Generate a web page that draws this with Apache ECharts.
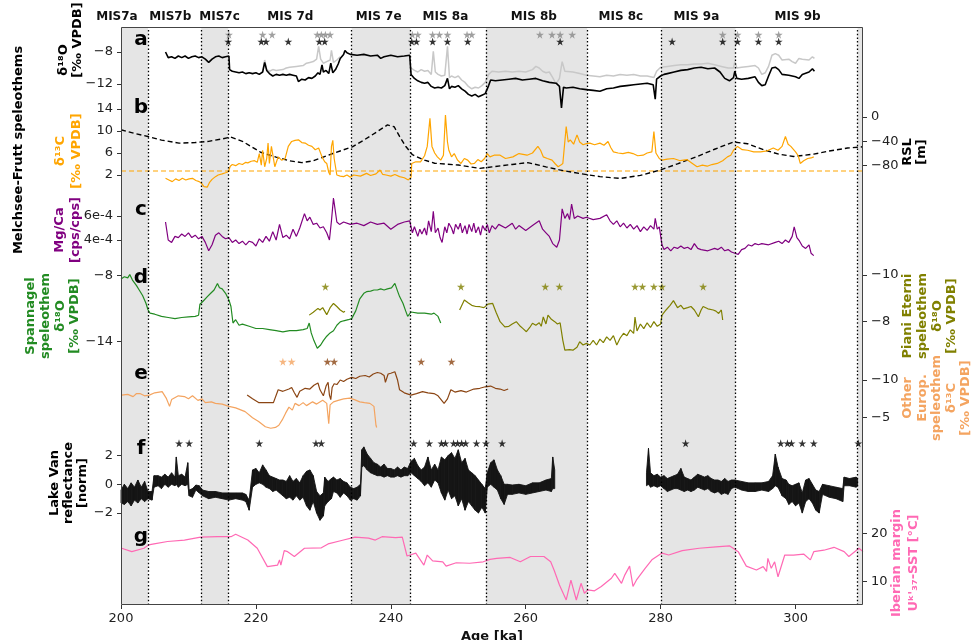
<!DOCTYPE html>
<html>
<head>
<meta charset="utf-8">
<script src="https://cdn.jsdelivr.net/npm/echarts@6/dist/echarts.min.js"></script>
<style>html,body{margin:0;background:#fff}#chart{width:974px;height:640px}</style>
</head>
<body>
<div id="chart"></div>
<script>
// interval boundaries (ka) and shaded stadials
var misBounds = [204.0, 211.9, 215.9, 234.2, 242.9, 254.1, 269.1, 280.1, 291.1, 309.2];
var misShade = [[200, 204.0], [211.9, 215.9], [234.2, 242.9], [254.1, 269.1], [280.1, 291.1], [309.2, 310]];
var misNames = ['MIS7a', 'MIS7b', 'MIS7c', 'MIS 7d', 'MIS 7e', 'MIS 8a', 'MIS 8b', 'MIS 8c', 'MIS 9a', 'MIS 9b'];
var misAt = [199.4, 207.3, 214.6, 225.1, 238.2, 248.1, 261.2, 274.1, 285.3, 300.3];

// a: Melchsee-Frutt d18O (black) and gray record
var d18oBlack = [[206.6,-8.0],[207.0,-8.7],[207.5,-8.6],[208.0,-8.8],[208.5,-8.5],[209.0,-8.7],[209.5,-8.5],[210.0,-8.8],[210.5,-8.6],[211.0,-8.5],[211.5,-8.7],[212.0,-8.6],[212.5,-8.9],[213.0,-9.3],[213.5,-8.9],[214.0,-8.6],[214.5,-8.5],[215.0,-8.7],[215.5,-8.6],[216.0,-8.5],[216.1,-10.2],[216.5,-10.4],[217.0,-10.5],[217.5,-10.6],[218.0,-10.5],[218.5,-10.7],[219.0,-10.6],[219.5,-10.7],[220.0,-10.6],[220.5,-10.8],[221.0,-10.5],[221.3,-9.3],[221.6,-10.3],[222.0,-10.7],[222.5,-11.0],[223.0,-10.8],[223.5,-10.9],[224.0,-10.8],[224.5,-10.9],[225.0,-10.8],[225.5,-10.9],[226.0,-11.0],[226.3,-11.7],[226.8,-11.4],[227.3,-11.5],[227.8,-11.2],[228.3,-11.3],[228.8,-11.0],[229.2,-10.6],[229.5,-10.8],[229.8,-9.6],[230.0,-10.5],[230.4,-10.3],[230.8,-10.7],[231.1,-9.4],[231.4,-10.6],[231.8,-10.2],[232.2,-9.5],[232.5,-8.8],[233.0,-8.3],[233.2,-7.8],[233.5,-8.1],[234.0,-8.3],[235.0,-8.4],[236.0,-8.3],[237.0,-8.5],[238.0,-8.4],[238.5,-8.8],[239.0,-8.6],[240.0,-8.4],[241.0,-8.6],[242.0,-8.5],[242.8,-8.4],[243.0,-10.8],[243.5,-11.3],[244.0,-11.6],[244.5,-11.8],[245.0,-11.9],[245.5,-11.8],[246.0,-12.3],[246.5,-12.5],[247.0,-12.4],[247.5,-12.5],[248.0,-12.2],[248.4,-11.3],[248.7,-12.6],[249.0,-12.3],[249.5,-12.4],[250.0,-12.2],[250.5,-12.6],[251.0,-12.9],[251.5,-13.3],[252.0,-13.5],[252.5,-13.3],[253.0,-13.6],[253.5,-13.4],[254.0,-13.2],[254.5,-12.2],[254.8,-11.5],[255.5,-11.6],[256.5,-11.5],[257.5,-11.4],[258.5,-11.3],[259.5,-11.5],[260.5,-11.4],[261.5,-11.3],[262.5,-11.6],[263.5,-11.8],[264.5,-11.9],[265.0,-12.3],[265.3,-15.0],[265.6,-12.4],[266.0,-12.5],[267.0,-12.4],[268.0,-12.6],[269.0,-12.7],[270.0,-12.8],[271.0,-12.9],[272.0,-12.6],[273.0,-12.5],[274.0,-12.3],[275.0,-12.2],[276.0,-12.1],[277.0,-12.0],[278.0,-11.9],[278.9,-12.1],[279.2,-13.9],[279.4,-11.4],[280.0,-11.0],[280.5,-10.8],[281.0,-10.7],[282.0,-10.5],[283.0,-10.3],[284.0,-10.2],[285.0,-10.0],[286.0,-9.9],[287.0,-10.1],[288.0,-10.0],[288.8,-10.5],[289.5,-11.3],[290.2,-11.6],[290.8,-11.2],[291.0,-10.4],[291.3,-11.3],[292.0,-11.4],[293.0,-11.3],[294.0,-11.1],[294.5,-11.8],[295.0,-12.2],[295.5,-12.1],[296.0,-11.0],[296.5,-10.0],[297.0,-9.9],[297.5,-10.2],[298.0,-10.8],[299.0,-10.9],[300.0,-11.1],[300.5,-11.3],[301.0,-10.8],[302.0,-10.5],[302.5,-10.1],[302.8,-10.4]];
var d18oGrayA = [[221.0,-10.5],[221.3,-9.0],[221.6,-10.2],[222.0,-10.4],[222.5,-10.2],[223.0,-10.3],[224.0,-10.2],[224.5,-10.0],[225.0,-9.9],[226.0,-9.8],[227.0,-9.7],[227.5,-9.4],[228.0,-9.3],[228.5,-9.2],[229.0,-8.9],[229.3,-7.3],[229.6,-8.9],[230.0,-9.4],[230.5,-9.2],[231.0,-9.0],[231.2,-7.8],[231.5,-9.3],[232.0,-9.0],[232.5,-8.6]];
var d18oGrayB = [[243.0,-10.0],[243.5,-10.3],[244.0,-10.5],[244.5,-10.2],[245.0,-10.4],[245.5,-10.3],[246.0,-10.8],[246.3,-7.9],[246.6,-10.5],[247.0,-10.8],[247.5,-11.0],[248.0,-10.9],[248.4,-7.3],[248.7,-11.2],[249.0,-11.0],[249.5,-11.2],[250.0,-11.0],[250.5,-11.5],[251.0,-11.8],[251.5,-12.3],[252.0,-12.6],[252.5,-12.4],[253.0,-12.5],[253.5,-12.2],[254.0,-11.8],[254.5,-10.8],[255.0,-10.4],[256.0,-10.5],[257.0,-10.4],[258.0,-10.5],[259.0,-10.4],[260.0,-10.5],[261.0,-10.2],[261.5,-9.8],[262.0,-10.0],[262.5,-10.4],[263.0,-10.6],[263.5,-10.5],[264.0,-11.2],[264.5,-12.0],[265.0,-11.3],[265.4,-9.2],[265.8,-10.4],[266.0,-10.6],[267.0,-10.5],[268.0,-10.7],[269.0,-10.9],[270.0,-11.0],[271.0,-11.1],[272.0,-10.9],[273.0,-11.0],[274.0,-10.8],[275.0,-10.9],[276.0,-10.8],[277.0,-11.0],[278.0,-11.0],[279.0,-11.2],[279.4,-10.4],[280.0,-9.9],[281.0,-9.8],[282.0,-9.7],[283.0,-9.6],[284.0,-9.6],[285.0,-9.5],[286.0,-9.5],[287.0,-9.4],[288.0,-9.6],[289.0,-9.8],[290.0,-10.0],[290.8,-10.0],[291.0,-9.2],[291.3,-10.0],[292.0,-9.9],[293.0,-9.8],[294.0,-9.7],[294.5,-10.0],[295.0,-10.8],[295.5,-10.6],[296.0,-9.8],[296.5,-8.4],[297.0,-8.2],[297.5,-8.4],[298.0,-9.0],[299.0,-8.9],[299.5,-9.2],[300.0,-9.4],[300.5,-8.8],[301.0,-8.9],[302.0,-9.0],[302.5,-8.6],[302.8,-8.8]];
var starsGrayA = [216.0, 221.0, 222.4, 229.1, 229.7, 230.3, 231.0, 243.2, 244.0, 246.2, 247.2, 248.4, 251.3, 252.0, 262.1, 263.9, 265.1, 266.9, 289.2, 291.4, 294.5, 297.5];
var starsBlackA = [215.9, 220.8, 221.5, 224.8, 229.4, 230.2, 243.1, 243.8, 246.2, 248.4, 251.4, 265.1, 281.7, 289.2, 291.4, 294.5, 297.5];

// b: d13C (orange) and relative sea level (dashed)
var d13c = [[206.6,1.4],[207.1,1.1],[207.6,0.8],[208.1,1.3],[208.6,1.0],[209.1,1.4],[209.6,1.1],[210.1,1.3],[210.6,1.4],[211.1,1.0],[211.6,0.8],[212.0,0.4],[212.3,-0.1],[212.8,-0.2],[213.1,0.6],[213.5,1.2],[214.0,1.7],[214.4,2.0],[215.0,2.2],[215.5,2.4],[215.9,2.6],[216.2,3.6],[216.5,3.9],[217.0,3.7],[217.5,4.1],[218.0,3.9],[218.5,4.3],[218.8,4.2],[219.3,4.5],[219.8,4.6],[220.2,4.3],[220.5,5.9],[220.8,3.8],[221.0,6.5],[221.3,3.5],[221.6,5.0],[221.8,7.8],[222.0,4.1],[222.3,7.2],[222.6,5.0],[222.8,3.5],[223.3,5.3],[223.8,4.7],[224.3,4.9],[224.8,7.2],[225.3,8.1],[225.8,8.3],[226.3,8.4],[226.8,7.9],[227.3,7.8],[227.8,7.4],[228.3,7.2],[228.8,6.6],[229.3,6.9],[229.8,5.3],[230.2,4.4],[230.5,4.1],[230.8,2.5],[231.0,2.0],[231.2,7.2],[231.4,8.3],[231.6,5.0],[232.0,2.0],[232.5,1.8],[233.0,1.7],[233.5,2.0],[234.0,1.6],[234.5,2.0],[235.5,1.8],[236.4,2.3],[237.0,1.9],[237.8,2.2],[238.4,2.9],[238.8,2.1],[239.3,2.0],[240.0,1.8],[240.6,2.1],[241.3,1.7],[242.0,1.5],[242.6,1.1],[243.0,1.6],[243.1,4.1],[243.7,4.4],[244.4,4.4],[245.0,5.5],[245.4,7.2],[245.8,12.3],[246.1,7.2],[246.5,6.0],[246.9,5.3],[247.4,4.7],[247.8,5.6],[248.1,12.9],[248.4,8.0],[248.6,6.5],[249.0,5.3],[249.4,5.9],[249.9,4.7],[250.4,4.1],[250.9,5.0],[251.4,4.7],[251.9,4.0],[252.4,4.1],[252.9,4.8],[253.4,4.4],[253.9,5.0],[254.3,5.9],[254.7,5.3],[255.3,5.6],[256.2,5.6],[257.0,5.0],[258.1,5.3],[259.0,5.9],[260.2,5.6],[261.0,6.0],[261.8,7.2],[262.2,6.5],[262.6,5.3],[263.2,5.0],[263.9,4.7],[264.4,4.0],[264.8,3.5],[265.2,3.8],[265.5,4.1],[266.0,10.8],[266.3,8.0],[266.6,8.4],[267.1,7.6],[267.6,9.3],[268.0,8.0],[268.5,7.5],[269.0,7.7],[269.5,7.8],[270.2,7.5],[271.0,7.8],[271.6,7.4],[272.2,8.1],[272.6,7.0],[273.0,6.2],[273.7,6.0],[274.4,5.9],[275.2,6.1],[275.9,5.9],[276.6,5.5],[277.4,5.6],[278.0,6.0],[278.7,6.2],[279.0,9.9],[279.3,6.0],[279.5,5.9],[279.8,5.0],[280.2,4.7],[281.0,4.9],[281.9,5.0],[282.9,4.6],[283.9,4.8],[284.6,4.2],[285.4,3.5],[286.2,3.8],[286.9,3.6],[287.6,3.9],[288.4,4.1],[289.2,4.6],[289.9,5.3],[290.4,5.6],[290.8,6.5],[291.4,7.2],[292.1,6.6],[292.9,6.5],[293.8,6.2],[294.8,6.2],[295.8,6.4],[296.7,6.9],[297.4,6.5],[298.0,7.2],[298.5,9.0],[298.9,7.6],[299.3,7.2],[300.0,6.2],[300.4,5.5],[300.7,4.1],[301.2,4.6],[301.8,5.0],[302.3,5.1],[302.7,5.3]];
var d13cRef = 2.73;
var rsl = [[200,-21],[202,-27],[204,-32],[206,-38],[208.6,-43],[211,-42],[213,-40],[215,-36],[216.3,-33],[218,-40],[220.7,-58],[223,-66],[225,-72],[226.8,-75],[228.5,-72],[231.4,-60],[234.3,-49],[236,-38],[238,-24],[239.5,-13],[240.5,-16],[241.3,-32],[242.2,-48],[243.2,-62],[245,-71],[246.5,-76],[250,-79],[253.2,-84.5],[255,-82],[258,-78],[260.3,-75],[263,-82],[265,-87],[268,-93],[271,-98],[274,-101],[277,-96],[280,-87],[282.5,-77],[285.4,-65],[288,-53],[290.8,-41],[292.9,-44],[295.3,-54],[297.5,-61],[299.7,-65],[302.7,-61],[305,-56],[307.7,-51],[310,-49]];

// c: Mg/Ca
var mgca = [[206.6,5.5e-4],[207.0,4.0e-4],[207.5,3.8e-4],[208.0,4.3e-4],[208.5,4.2e-4],[209.0,4.5e-4],[209.5,4.3e-4],[210.0,4.6e-4],[210.5,4.2e-4],[211.0,4.4e-4],[211.5,4.1e-4],[212.0,4.3e-4],[212.5,3.8e-4],[213.0,3.1e-4],[213.5,3.6e-4],[214.0,4.4e-4],[214.5,4.6e-4],[215.0,4.3e-4],[215.5,4.1e-4],[216.0,4.2e-4],[216.5,3.8e-4],[217.0,4.0e-4],[217.5,3.7e-4],[218.0,3.9e-4],[218.5,3.6e-4],[219.0,3.9e-4],[219.5,3.8e-4],[220.0,3.5e-4],[220.5,4.1e-4],[221.0,3.8e-4],[221.5,4.3e-4],[222.0,3.9e-4],[222.5,4.7e-4],[223.0,4.0e-4],[223.5,5.3e-4],[224.0,4.2e-4],[224.5,4.4e-4],[225.0,4.1e-4],[225.5,4.9e-4],[226.0,4.3e-4],[226.5,5.0e-4],[227.2,6.2e-4],[227.6,5.6e-4],[228.0,5.9e-4],[228.5,5.3e-4],[229.0,5.4e-4],[229.5,5.0e-4],[230.0,5.1e-4],[230.5,4.6e-4],[230.9,4.0e-4],[231.2,5.6e-4],[231.5,7.5e-4],[232.0,5.5e-4],[232.4,5.3e-4],[233.0,5.5e-4],[234.0,5.3e-4],[235.0,5.4e-4],[236.0,5.2e-4],[237.0,5.5e-4],[238.0,5.3e-4],[239.0,5.4e-4],[240.0,4.9e-4],[241.0,5.3e-4],[242.0,5.5e-4],[242.8,5.6e-4],[243.2,4.6e-4],[243.5,5.1e-4],[244.0,4.3e-4],[244.3,4.9e-4],[244.6,4.5e-4],[245.0,5.0e-4],[245.3,4.4e-4],[245.6,5.6e-4],[246.0,4.7e-4],[246.3,6.4e-4],[246.6,4.6e-4],[247.0,5.0e-4],[247.3,4.2e-4],[247.6,3.8e-4],[248.0,5.1e-4],[248.3,4.6e-4],[248.6,5.4e-4],[249.0,5.0e-4],[249.3,4.5e-4],[249.6,5.3e-4],[250.0,4.9e-4],[250.3,5.4e-4],[250.6,4.6e-4],[251.0,5.2e-4],[251.3,4.5e-4],[251.6,5.3e-4],[252.0,4.7e-4],[252.3,5.4e-4],[252.6,4.6e-4],[253.0,5.1e-4],[253.3,4.4e-4],[253.6,5.2e-4],[254.0,4.8e-4],[254.3,5.3e-4],[254.6,4.6e-4],[255.0,5.2e-4],[255.5,4.9e-4],[256.0,5.3e-4],[257.0,5.0e-4],[258.0,5.4e-4],[258.5,4.9e-4],[259.0,5.2e-4],[260.0,4.8e-4],[261.0,5.2e-4],[262.0,5.6e-4],[262.5,4.9e-4],[263.0,4.6e-4],[263.5,4.3e-4],[264.0,3.7e-4],[264.6,3.4e-4],[265.0,4.0e-4],[265.4,6.6e-4],[265.8,5.8e-4],[266.2,6.2e-4],[266.5,5.7e-4],[266.8,7.0e-4],[267.2,5.8e-4],[267.7,6.0e-4],[268.5,5.8e-4],[269.0,5.9e-4],[270.0,5.7e-4],[271.0,5.8e-4],[272.0,6.1e-4],[272.5,5.6e-4],[273.0,5.3e-4],[273.5,5.6e-4],[274.0,5.1e-4],[274.5,5.4e-4],[275.0,5.0e-4],[275.5,5.3e-4],[276.0,4.9e-4],[276.5,5.2e-4],[277.0,4.7e-4],[277.5,5.1e-4],[278.0,4.8e-4],[278.5,5.2e-4],[279.0,4.9e-4],[279.2,5.8e-4],[279.5,4.9e-4],[279.8,5.1e-4],[280.2,3.6e-4],[280.5,3.2e-4],[281.0,3.4e-4],[281.5,3.1e-4],[282.0,3.4e-4],[282.5,3.3e-4],[283.0,3.5e-4],[283.5,3.3e-4],[284.0,3.4e-4],[284.5,3.2e-4],[285.0,3.7e-4],[285.5,3.3e-4],[286.0,3.2e-4],[287.0,3.1e-4],[288.0,3.3e-4],[288.5,3.2e-4],[289.0,3.4e-4],[289.5,3.1e-4],[290.0,3.2e-4],[290.5,3.0e-4],[291.0,2.9e-4],[291.5,2.8e-4],[292.0,3.2e-4],[292.5,3.3e-4],[293.0,3.6e-4],[293.5,3.5e-4],[294.0,3.7e-4],[294.5,3.6e-4],[295.0,3.7e-4],[296.0,3.6e-4],[297.0,3.8e-4],[297.5,3.9e-4],[298.0,3.7e-4],[298.5,4.0e-4],[299.0,3.8e-4],[299.5,4.3e-4],[299.8,5.1e-4],[300.2,4.2e-4],[300.6,3.9e-4],[301.0,3.5e-4],[301.5,3.3e-4],[302.0,3.6e-4],[302.3,2.9e-4],[302.7,2.7e-4]];

// d: Spannagel d18O (green) and Piani Eterni d18O (olive)
var spannagel = [[200.0,-8.3],[200.5,-8.1],[201.0,-8.2],[201.3,-7.9],[201.7,-8.4],[202.3,-8.9],[202.7,-9.3],[203.2,-9.8],[203.7,-10.5],[204.0,-11.1],[204.3,-11.4],[205.0,-11.5],[206.0,-11.7],[207.0,-11.8],[208.0,-11.9],[209.0,-11.8],[210.0,-11.75],[211.0,-11.7],[211.5,-11.6],[211.7,-10.6],[212.2,-10.3],[212.8,-9.9],[213.3,-9.6],[213.8,-9.3],[214.3,-8.7],[214.6,-9.1],[215.0,-9.2],[215.5,-9.6],[216.0,-10.2],[216.3,-10.8],[216.6,-12.3],[217.0,-12.0],[217.5,-12.5],[218.0,-12.4],[219.0,-12.6],[220.0,-12.8],[221.0,-12.8],[222.0,-12.9],[223.0,-13.0],[224.0,-13.1],[225.0,-13.0],[226.0,-13.0],[227.0,-12.9],[227.6,-12.8],[227.9,-12.3],[228.2,-13.2],[228.6,-13.9],[229.1,-14.6],[229.6,-14.3],[230.0,-13.9],[230.5,-13.5],[231.0,-13.2],[231.5,-13.0],[232.0,-12.5],[232.5,-12.2],[233.0,-12.1],[233.7,-12.0],[234.2,-11.9],[234.8,-11.2],[235.4,-10.1],[236.0,-9.6],[236.4,-9.45],[237.0,-9.4],[237.5,-9.3],[238.0,-9.3],[238.5,-9.2],[239.0,-9.3],[239.5,-9.2],[240.1,-9.1],[240.6,-8.7],[241.0,-9.4],[241.3,-9.9],[241.8,-10.5],[242.2,-11.2],[242.5,-11.7],[243.0,-11.3],[244.0,-11.4],[245.0,-11.4],[246.0,-11.5],[246.4,-11.4],[247.0,-11.7],[247.4,-12.3]];
var pianiA = [[227.9,-8.28],[228.5,-8.4],[229.2,-8.57],[229.5,-8.5],[229.9,-8.6],[230.5,-8.3],[231.0,-8.6],[231.5,-8.78],[232.0,-8.65],[232.5,-8.5],[233.0,-8.4],[233.2,-8.45]];
var pianiB = [[250.2,-8.5],[250.9,-8.93],[251.5,-8.8],[252.0,-8.7],[252.6,-8.65],[253.2,-8.64],[253.8,-8.6],[254.4,-8.75],[255.1,-8.78],[255.6,-8.4],[256.2,-8.0],[256.9,-7.78],[257.5,-7.8],[258.0,-7.9],[258.6,-8.0],[259.2,-7.8],[259.6,-7.7],[260.1,-7.57],[260.6,-7.75],[261.0,-7.93],[261.5,-7.85],[262.0,-7.95],[262.3,-7.8],[262.6,-8.2],[263.0,-7.9],[263.3,-8.28],[263.8,-8.1],[264.3,-8.0],[264.7,-7.9],[265.1,-7.95],[265.5,-7.2],[265.8,-6.78],[266.5,-6.8],[267.0,-6.78],[267.6,-6.9],[268.0,-7.14],[268.5,-7.0],[269.0,-7.07],[269.5,-7.0],[270.0,-7.2],[270.5,-7.0],[271.0,-7.25],[271.5,-7.1],[272.0,-7.35],[272.5,-7.2],[273.0,-7.4],[273.5,-7.0],[274.0,-7.3],[274.5,-7.5],[275.0,-7.4],[275.5,-7.65],[276.0,-7.5],[276.2,-8.2],[276.5,-7.6],[277.0,-7.9],[277.5,-7.7],[278.0,-7.95],[278.5,-7.75],[279.0,-8.0],[279.5,-7.8],[280.0,-7.9],[280.2,-8.28],[280.8,-8.5],[281.4,-8.7],[281.9,-8.9],[282.5,-8.6],[283.0,-8.7],[283.4,-8.55],[284.0,-8.6],[284.5,-8.65],[285.0,-8.5],[285.6,-8.21],[286.0,-8.5],[286.3,-8.65],[287.0,-8.55],[287.8,-8.5],[288.2,-8.45],[288.6,-8.35],[289.0,-8.5],[289.2,-8.07]];
var starsPiani = [230.3, 250.4, 262.9, 265.0, 276.2, 277.3, 279.0, 280.2, 286.3];

// e: other European speleothem d13C
var europLight = [[200.1,-8.0],[201.0,-8.1],[201.8,-7.8],[202.3,-8.2],[202.8,-8.2],[203.5,-7.9],[204.2,-8.0],[205.0,-8.3],[206.1,-8.45],[206.7,-7.6],[207.2,-6.5],[207.5,-7.4],[207.9,-7.6],[208.5,-7.9],[209.4,-7.8],[210.0,-7.5],[210.6,-7.9],[211.4,-7.3],[212.0,-7.5],[212.5,-7.0],[213.4,-7.1],[214.0,-6.9],[215.0,-6.8],[216.0,-6.5],[217.0,-6.3],[218.4,-5.8],[219.5,-5.0],[220.4,-4.5],[221.4,-3.8],[222.2,-3.6],[222.9,-3.7],[223.4,-4.0],[223.9,-4.7],[224.4,-5.6],[224.9,-6.4],[225.4,-6.0],[225.8,-6.9],[226.4,-6.6],[227.0,-7.0],[227.5,-6.6],[228.4,-7.1],[229.0,-6.8],[229.9,-7.3],[230.5,-6.9],[230.8,-4.2],[231.0,-6.7],[231.5,-7.1],[232.2,-7.3],[233.0,-7.5],[233.9,-7.6],[234.6,-7.4],[235.4,-7.1],[236.1,-7.0],[236.9,-6.9],[237.5,-6.5],[237.7,-6.4],[237.8,-4.0],[237.9,-3.7]];
var europBrown = [[218.7,-8.0],[219.5,-7.5],[220.4,-7.0],[222.6,-7.0],[223.3,-8.7],[224.0,-8.5],[224.9,-8.8],[225.3,-9.0],[225.7,-8.3],[226.1,-7.7],[226.5,-8.5],[227.3,-8.9],[228.0,-8.8],[228.6,-9.3],[229.2,-9.6],[229.5,-8.7],[230.0,-7.9],[230.4,-9.2],[230.7,-9.7],[230.9,-8.0],[231.1,-7.4],[231.3,-9.0],[231.6,-9.5],[232.0,-9.4],[232.5,-10.0],[233.0,-9.8],[233.5,-10.1],[234.2,-10.35],[234.8,-10.2],[235.4,-10.5],[236.2,-10.6],[236.8,-10.4],[237.4,-10.8],[238.0,-11.0],[238.5,-10.9],[239.0,-10.6],[239.2,-9.7],[239.6,-10.8],[240.0,-10.9],[240.6,-11.1],[241.0,-10.0],[241.3,-8.7],[242.0,-8.3],[243.0,-8.0],[243.8,-8.2],[244.7,-8.45],[245.5,-8.3],[246.4,-8.2],[247.0,-7.9],[247.9,-6.9],[248.4,-7.5],[248.9,-8.7],[249.5,-8.4],[250.4,-8.6],[251.2,-8.4],[252.3,-8.8],[253.2,-8.9],[254.0,-9.1],[254.8,-9.2],[255.5,-8.9],[256.2,-8.8],[256.8,-8.6],[257.4,-8.8]];
var starsEuropLight = [224.0, 225.3];
var starsEuropBrown = [230.6, 231.6, 244.5, 249.0];

// f: Lake Van reflectance, [age, low, high] of the point cloud
var vanSeg1 = [[200.0,-1.3,-0.4],[200.5,-1.4,0.0],[201.0,-1.2,-0.3],[201.5,-1.5,0.1],[202.0,-1.1,-0.2],[202.5,-1.3,0.3],[203.0,-1.0,-0.2],[203.5,-1.2,0.2],[204.0,-1.0,-0.5],[204.6,-1.1,-0.5],[204.9,-0.2,0.6],[205.5,-0.1,0.6],[206.0,-0.3,0.5],[206.5,0.0,0.7],[207.0,-0.2,0.5],[207.5,0.0,0.8],[208.0,-0.1,0.5],[208.2,0.0,1.9],[208.5,-0.2,0.6],[209.0,0.0,0.7],[209.5,-0.1,0.5],[209.9,0.0,1.5],[210.1,-0.8,-0.4],[210.6,-0.9,-0.3],[211.1,-0.4,-0.05],[211.6,-0.6,-0.1],[212.1,-0.8,-0.4],[213.0,-1.0,-0.5],[214.0,-0.9,-0.5],[215.0,-1.0,-0.6],[216.0,-1.1,-0.6],[217.0,-1.0,-0.6],[218.0,-1.1,-0.6],[218.5,-1.2,-0.7],[219.0,-1.8,-1.1],[219.5,-0.2,1.0],[220.0,0.0,1.1],[220.5,0.1,0.8],[221.0,0.0,1.35],[221.5,-0.2,1.0],[222.0,-0.3,0.6],[222.5,-0.5,0.5],[223.0,-0.4,0.4],[223.5,-0.6,0.3],[224.0,-0.8,0.3],[224.5,-1.0,0.2],[225.0,-0.9,0.6],[225.5,-1.1,0.2],[226.0,-0.8,0.4],[226.5,-1.1,0.1],[227.0,-0.9,0.6],[227.5,-1.5,0.9],[228.0,-1.8,1.0],[228.5,-1.2,0.6],[229.0,-2.0,-0.5],[229.5,-2.5,-0.8],[230.0,-2.2,-0.6],[230.2,-1.5,0.5],[230.7,-1.2,0.2],[231.2,-1.0,0.4],[231.5,-0.5,0.5],[232.0,-0.6,0.3],[232.5,-0.9,0.4],[233.0,-0.6,0.2],[233.5,-0.8,0.1],[234.0,-1.1,-0.2],[234.5,-1.0,-0.3],[235.0,-1.1,-0.2],[235.5,-0.8,0.0],[235.7,1.2,2.4],[236.0,1.3,2.6],[236.5,1.0,2.1],[237.0,0.8,1.8],[237.5,0.7,1.5],[238.0,0.6,1.4],[238.5,0.6,1.2],[239.0,0.5,1.4],[239.5,0.6,1.1],[240.0,0.5,1.1],[240.5,0.5,1.0],[241.0,0.6,1.2],[241.5,0.5,1.0],[242.0,0.6,1.2],[242.5,0.6,1.1],[243.0,0.8,1.6],[243.5,0.6,1.8],[244.0,0.4,1.3],[244.5,0.2,1.0],[245.0,-0.1,1.2],[245.5,0.1,1.9],[246.0,-0.2,1.0],[246.5,0.3,1.4],[247.0,0.1,1.0],[247.5,-0.6,1.9],[248.0,-1.1,1.7],[248.5,-0.4,2.0],[249.0,-1.0,2.2],[249.5,-0.8,1.8],[250.0,-1.5,2.4],[250.5,-1.0,1.5],[251.0,-1.8,1.8],[251.5,-1.2,1.0],[252.0,-1.5,0.8],[252.5,-1.8,0.6],[253.0,-2.0,0.3],[253.5,-1.6,0.0],[254.0,-2.0,-0.3],[254.3,-0.2,0.8],[254.8,0.0,1.5],[255.3,-0.2,1.7],[255.8,-0.4,1.0],[256.3,-1.0,0.6],[256.8,-1.4,0.0],[257.3,-0.7,0.0],[258.0,-0.7,-0.05],[259.0,-0.6,0.0],[260.0,-0.7,-0.1],[261.0,-0.6,0.1],[262.0,-0.5,0.1],[263.0,-0.4,0.3],[263.8,-0.5,0.4],[264.0,-0.3,1.9],[264.3,-0.3,1.0]];
var vanSeg2 = [[277.9,-0.1,0.8],[278.2,0.0,2.5],[278.5,-0.2,0.8],[279.0,-0.1,0.6],[279.5,-0.2,0.7],[280.0,-0.1,0.5],[280.5,-0.3,0.6],[281.0,-0.5,0.4],[281.5,-0.4,0.5],[282.0,-0.3,0.6],[282.5,-0.3,0.7],[283.0,-0.4,1.1],[283.5,-0.5,0.5],[284.0,-0.4,0.4],[284.5,-0.5,0.3],[285.0,-0.4,0.5],[285.5,-0.2,0.7],[286.0,-0.3,0.6],[286.5,-0.4,0.5],[287.0,-0.3,0.6],[287.5,-0.5,0.4],[288.0,-0.6,0.3],[288.5,-0.5,0.3],[289.0,-0.7,0.2],[289.5,-0.6,0.4],[290.0,-0.7,0.2],[290.5,-0.3,0.3],[291.0,-0.2,0.3],[292.0,-0.4,0.2],[293.0,-0.5,0.1],[294.0,-0.5,0.1],[295.0,-0.4,0.1],[296.0,-0.5,0.2],[296.6,-0.3,0.6],[297.0,-0.1,2.1],[297.4,-0.2,1.2],[298.0,-0.8,0.4],[298.6,-1.0,0.3],[299.0,-1.4,0.0],[299.5,-1.2,-0.1],[300.0,-1.5,0.0],[300.5,-1.3,0.1],[301.0,-2.0,-0.6],[301.5,-1.2,0.3],[302.0,-1.0,0.4],[302.5,-1.3,0.0],[303.0,-1.8,-0.4],[303.5,-2.0,-0.5],[304.0,-0.7,0.0],[305.0,-0.9,-0.1],[306.0,-1.0,-0.2],[307.0,-1.2,-0.3],[307.2,-0.1,0.5],[308.0,-0.1,0.4],[309.0,-0.2,0.5],[309.2,-0.1,0.4]];
var starsVan = [208.6, 210.1, 220.5, 228.9, 229.7, 243.4, 245.7, 247.5, 248.1, 249.3, 249.9, 250.5, 251.1, 252.7, 254.1, 256.5, 283.7, 297.8, 298.8, 299.4, 301.0, 302.7, 309.3];

// g: Iberian margin SST
var sst = [[200.1,16.9],[201.6,16.2],[203.4,16.9],[204.1,17.6],[204.9,17.8],[206.9,18.3],[209.4,18.6],[211.8,19.2],[214.3,19.3],[216.3,19.3],[217.0,19.8],[218.8,18.6],[220.2,16.9],[221.7,13.1],[223.2,13.4],[223.5,14.5],[223.7,13.4],[224.2,16.4],[224.7,16.2],[225.7,15.2],[227.2,16.9],[229.7,17.0],[230.7,17.8],[232.7,18.5],[234.7,19.2],[236.7,19.0],[237.7,18.6],[238.7,19.3],[240.7,19.1],[241.7,19.2],[242.4,15.3],[243.7,15.9],[244.9,13.4],[245.4,15.5],[246.2,14.3],[247.7,14.1],[248.2,13.2],[249.7,13.9],[251.7,13.8],[253.7,14.1],[254.7,14.6],[255.7,14.8],[257.7,15.0],[259.2,14.1],[260.7,15.2],[262.7,15.2],[263.7,14.1],[264.2,12.4],[265.0,9.3],[266.0,6.2],[266.7,10.3],[267.5,6.2],[268.2,9.65],[268.7,7.6],[269.2,8.3],[270.2,8.1],[271.2,9.0],[272.7,10.7],[273.2,11.7],[274.2,9.65],[274.7,11.4],[275.4,13.2],[275.9,9.0],[276.4,10.3],[277.7,12.75],[278.7,14.5],[280.2,15.9],[281.2,15.5],[283.2,16.4],[285.7,16.9],[288.2,17.2],[290.2,17.4],[291.5,16.2],[292.7,13.2],[294.2,12.4],[295.2,13.1],[295.7,12.1],[295.9,14.8],[296.4,12.75],[296.9,14.1],[297.4,11.0],[298.4,15.5],[299.7,15.5],[301.2,15.7],[302.2,14.5],[302.7,16.2],[304.2,16.5],[305.7,17.1],[307.2,16.2],[307.9,15.2],[309.4,16.9],[310.0,16.2]];

var chart = echarts.init(document.getElementById('chart'));
var FONT = '"DejaVu Sans", sans-serif';
var L = 121, R = 111, TOP = 27, BOT = 35;
var STAR = 'path://M50,0 L61,35 L98,35 L68,57 L79,91 L50,70 L21,91 L32,57 L2,35 L39,35 Z';

function mns(v) { return String(v).replace('-', '\u2212'); }

// one grid per panel, all sharing the age axis
var grids = [
  {top: TOP, bottom: BOT},
  {top: 28, height: 88},
  {top: 103.5, height: 88},
  {top: 192, height: 72},
  {top: 264.7, height: 88},
  {top: 355, height: 80},
  {top: 438, height: 87},
  {top: 520, height: 85}
].map(function (g) { return Object.assign({left: L, right: R, show: false, outerBoundsMode: 'none'}, g); });

var xAxes = grids.map(function (g, i) {
  var ax = {type: 'value', gridIndex: i, min: 200, max: 310, show: i === 0, splitLine: {show: false}};
  if (i === 0) {
    ax.axisLine = {show: false};
    ax.axisTick = {show: true, length: 4, customValues: [200, 220, 240, 260, 280, 300], lineStyle: {color: '#333'}};
    ax.axisLabel = {customValues: [200, 220, 240, 260, 280, 300], fontSize: 13, color: '#222', fontFamily: FONT, margin: 7};
    ax.name = 'Age [ka]';
    ax.nameLocation = 'middle';
    ax.nameGap = 25;
    ax.nameTextStyle = {fontSize: 13, fontWeight: 'bold', color: '#111', fontFamily: FONT, verticalAlign: 'top'};
  }
  return ax;
});

function yAx(g, min, max, ticks, pos, fmt, inverse) {
  return {
    type: 'value', gridIndex: g, min: min, max: max, position: pos, inverse: !!inverse,
    splitLine: {show: false}, axisLine: {show: false},
    axisTick: {show: true, length: 4, customValues: ticks, lineStyle: {color: '#333'}},
    axisLabel: {customValues: ticks, fontSize: 13, color: '#222', fontFamily: FONT, margin: 8, formatter: fmt || mns}
  };
}

var yAxes = [
  {type: 'value', gridIndex: 0, min: 0, max: 1, show: false},
  yAx(1, -16, -5, [-12, -8], 'left'),
  yAx(2, -1, 15, [2, 6, 10, 14], 'left'),
  yAx(2, -122.5, 22.2, [-80, -40, 0], 'right'),
  yAx(3, 2e-4, 8e-4, [4e-4, 6e-4], 'left', function (v) { return Math.round(v * 1e4) + 'e-4'; }),
  yAx(4, -15, -7, [-14, -8], 'left'),
  yAx(4, -10.44, -6.67, [-10, -8], 'right', null, true),
  yAx(5, -13.32, -2.7, [-10, -5], 'right', null, true),
  yAx(6, -2.83, 3.22, [-2, 0, 2], 'left'),
  yAx(7, 5.16, 22.75, [10, 20], 'right')
];

function line(data, xi, yi, color, width, extra) {
  return Object.assign({
    type: 'line', xAxisIndex: xi, yAxisIndex: yi, data: data, symbol: 'none',
    itemStyle: {color: color}, lineStyle: {color: color, width: width}, z: 3, animation: false
  }, extra || {});
}

function stars(ages, level, xi, yi, color) {
  return {
    type: 'scatter', xAxisIndex: xi, yAxisIndex: yi, symbol: STAR, symbolSize: 8,
    itemStyle: {color: color}, z: 4, animation: false,
    data: ages.map(function (a) { return [a, level]; })
  };
}

// point cloud drawn as a filled low/high band, piece by piece
function band(seg) {
  return {
    type: 'custom', xAxisIndex: 6, yAxisIndex: 8, z: 3, animation: false,
    data: seg, encode: {x: 0, y: [1, 2]},
    renderItem: function (params, api) {
      var i = params.dataIndex;
      if (i >= seg.length - 1) return {type: 'group', children: []};
      var a = seg[i], b = seg[i + 1];
      var pts = [api.coord([a[0], a[1]]), api.coord([a[0], a[2]]), api.coord([b[0], b[2]]), api.coord([b[0], b[1]])];
      return {type: 'polygon', shape: {points: pts}, style: {fill: '#151515', stroke: '#151515', lineWidth: 0.9}};
    }
  };
}

var series = [
  {
    type: 'line', xAxisIndex: 0, yAxisIndex: 0, data: [[200, 0.5]], symbol: 'none',
    lineStyle: {opacity: 0}, z: 1, animation: false,
    markArea: {silent: true, itemStyle: {color: '#e5e5e5'},
      data: misShade.map(function (s) { return [{xAxis: s[0]}, {xAxis: s[1]}]; })},
    markLine: {silent: true, symbol: 'none', label: {show: false}, animation: false,
      lineStyle: {type: [1.5, 2.2], color: '#000', width: 1.3},
      data: misBounds.map(function (b) { return {xAxis: b}; })}
  },
  line(d18oGrayA, 1, 1, '#c8c8c8', 1.5),
  line(d18oGrayB, 1, 1, '#c8c8c8', 1.5),
  line(d18oBlack, 1, 1, '#000', 1.6),
  stars(starsGrayA, -5.84, 1, 1, '#888'),
  stars(starsBlackA, -6.7, 1, 1, '#000'),
  line(rsl, 2, 3, '#000', 1.4, {lineStyle: {color: '#000', width: 1.4, type: [5, 3]}}),
  line(d13c, 2, 2, '#ffa500', 1.2),
  {
    type: 'line', xAxisIndex: 2, yAxisIndex: 2, data: [[200, d13cRef], [310, d13cRef]], symbol: 'none',
    itemStyle: {color: '#ffa500'}, lineStyle: {color: '#ffa500', width: 1.2, type: [5, 3]}, z: 2, animation: false
  },
  line(mgca, 3, 4, '#800080', 1.2),
  line(spannagel, 4, 5, '#228b22', 1.2),
  line(pianiA, 4, 6, '#808000', 1.2),
  line(pianiB, 4, 6, '#808000', 1.2),
  stars(starsPiani, -9.5, 4, 6, '#808000'),
  line(europLight, 5, 7, '#f4a460', 1.2),
  line(europBrown, 5, 7, '#8b4513', 1.2),
  stars(starsEuropLight, -12.43, 5, 7, '#f4a460'),
  stars(starsEuropBrown, -12.43, 5, 7, '#8b4513'),
  band(vanSeg1),
  band(vanSeg2),
  stars(starsVan, 2.85, 6, 8, '#000'),
  line(sst, 7, 9, '#ff69b4', 1.2)
];

chart.setOption({
  animation: false,
  backgroundColor: '#fff',
  grid: grids,
  xAxis: xAxes,
  yAxis: yAxes,
  series: series
});

// text labels, frame
function vtext(x, y, text, color, lh) {
  return {type: 'text', x: x, y: y, rotation: Math.PI / 2, z: 50,
    style: {text: text, fill: color, font: 'bold 13px ' + FONT, lineHeight: lh || 15,
      textAlign: 'center', textVerticalAlign: 'middle', align: 'center', verticalAlign: 'middle'}};
}
function letter(x, y, t) {
  return {type: 'text', x: x, y: y, z: 50,
    style: {text: t, fill: '#000', font: 'bold 20px ' + FONT,
      textAlign: 'center', textVerticalAlign: 'middle', align: 'center', verticalAlign: 'middle'}};
}

var gfx = [
  {type: 'rect', z: 40, silent: true,
    shape: {x: L + 0.5, y: TOP + 0.5, width: 974 - L - R - 1, height: 640 - TOP - BOT - 1},
    style: {fill: 'none', stroke: '#444', lineWidth: 1}},
  vtext(19, 150, 'Melchsee-Frutt speleothems', '#000'),
  vtext(64, 60, 'δ¹⁸O', '#000'),
  vtext(78, 40, '[‰ VPDB]', '#000'),
  vtext(69, 151, 'δ¹³C\n[‰ VPDB]', '#ffa500', 16),
  vtext(68, 230, 'Mg/Ca\n[cps/cps]', '#800080', 16),
  vtext(53, 316, 'Spannagel\nspeleothem\nδ¹⁸O\n[‰ VPDB]', '#228b22', 14.7),
  vtext(69, 483, 'Lake Van\nreflectance\n[norm]', '#000', 14),
  vtext(915, 152, 'RSL\n[m]', '#000', 14),
  vtext(930, 316, 'Piani Eterni\nspeleothem\nδ¹⁸O\n[‰ VPDB]', '#808000', 14.7),
  vtext(937, 398, 'Other\nEurop.\nspeleothem\nδ¹³C\n[‰ VPDB]', '#f4a460', 14.5),
  vtext(905, 563, "Iberian margin\nUᵏ'₃₇-SST [°C]", '#ff69b4', 17),
  letter(141, 40, 'a'),
  letter(141, 108, 'b'),
  letter(141, 210, 'c'),
  letter(141, 278, 'd'),
  letter(141, 374, 'e'),
  letter(141, 449, 'f'),
  letter(141, 537, 'g')
];
misNames.forEach(function (n, i) {
  var px = chart.convertToPixel({xAxisIndex: 0}, misAt[i]);
  gfx.push({type: 'text', x: px, y: 17, z: 50,
    style: {text: n, fill: '#111', font: 'bold 12px ' + FONT,
      textAlign: 'center', textVerticalAlign: 'middle', align: 'center', verticalAlign: 'middle'}});
});
chart.setOption({graphic: gfx});
</script>
</body>
</html>
